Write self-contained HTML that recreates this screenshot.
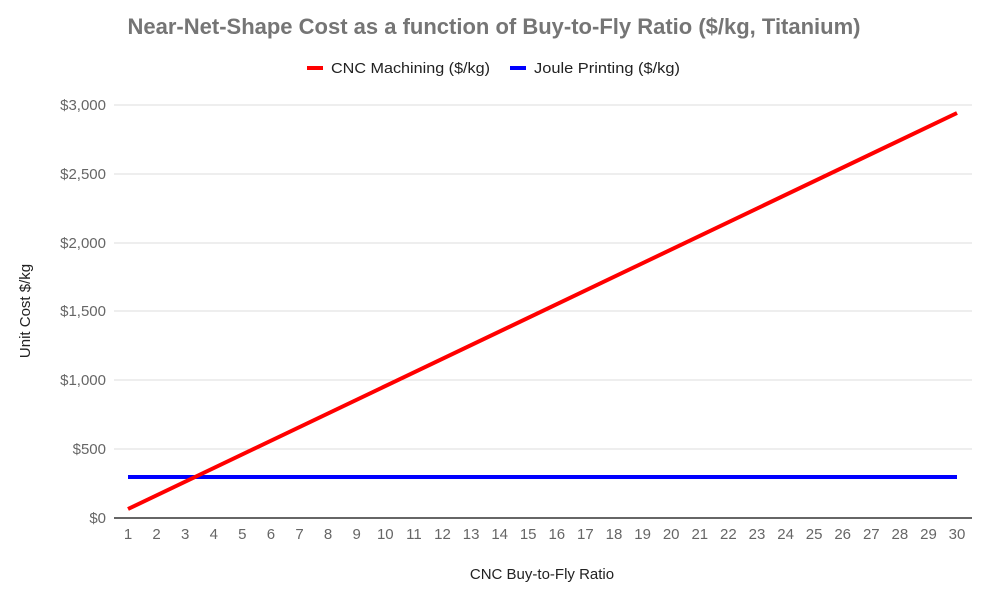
<!DOCTYPE html>
<html><head><meta charset="utf-8"><style>
body{margin:0;background:#fff;}
text{font-family:"Liberation Sans",Roboto,sans-serif;}
</style></head><body>
<svg width="1000" height="595" xmlns="http://www.w3.org/2000/svg">
<text x="494" y="34" text-anchor="middle" font-size="22" font-weight="bold" fill="#757575" textLength="733" lengthAdjust="spacingAndGlyphs">Near-Net-Shape Cost as a function of Buy-to-Fly Ratio ($/kg, Titanium)</text>
<line x1="307" y1="68" x2="323" y2="68" stroke="#f00" stroke-width="4"/>
<text x="331" y="73" font-size="15" fill="#222" textLength="159" lengthAdjust="spacingAndGlyphs">CNC Machining ($/kg)</text>
<line x1="510" y1="68" x2="526" y2="68" stroke="#00f" stroke-width="4"/>
<text x="534" y="73" font-size="15" fill="#222" textLength="146" lengthAdjust="spacingAndGlyphs">Joule Printing ($/kg)</text>
<g stroke="#ddd" stroke-width="1">
<line x1="114" y1="105" x2="972" y2="105"/>
<line x1="114" y1="174" x2="972" y2="174"/>
<line x1="114" y1="243" x2="972" y2="243"/>
<line x1="114" y1="311" x2="972" y2="311"/>
<line x1="114" y1="380" x2="972" y2="380"/>
<line x1="114" y1="449" x2="972" y2="449"/>
</g>
<line x1="114" y1="518" x2="972" y2="518" stroke="#333" stroke-width="1.5"/>
<g font-size="15" fill="#666" text-anchor="end">
<text x="106" y="110">$3,000</text><text x="106" y="179">$2,500</text><text x="106" y="248">$2,000</text>
<text x="106" y="316">$1,500</text><text x="106" y="385">$1,000</text><text x="106" y="454">$500</text><text x="106" y="523">$0</text>
</g>
<g font-size="15" fill="#666" text-anchor="middle">
<text x="128" y="539">1</text><text x="156.6" y="539">2</text><text x="185.2" y="539">3</text><text x="213.8" y="539">4</text><text x="242.3" y="539">5</text><text x="270.9" y="539">6</text><text x="299.5" y="539">7</text><text x="328.1" y="539">8</text><text x="356.7" y="539">9</text><text x="385.3" y="539">10</text><text x="413.9" y="539">11</text><text x="442.5" y="539">12</text><text x="471.1" y="539">13</text><text x="499.7" y="539">14</text><text x="528.2" y="539">15</text><text x="556.8" y="539">16</text><text x="585.4" y="539">17</text><text x="614" y="539">18</text><text x="642.6" y="539">19</text><text x="671.2" y="539">20</text><text x="699.8" y="539">21</text><text x="728.4" y="539">22</text><text x="757" y="539">23</text><text x="785.6" y="539">24</text><text x="814.1" y="539">25</text><text x="842.7" y="539">26</text><text x="871.3" y="539">27</text><text x="899.9" y="539">28</text><text x="928.5" y="539">29</text><text x="957" y="539">30</text>
</g>
<text x="542" y="579" font-size="15" fill="#222" text-anchor="middle">CNC Buy-to-Fly Ratio</text>
<text transform="translate(30,311) rotate(-90)" font-size="15" fill="#222" text-anchor="middle">Unit Cost $/kg</text>
<line x1="128" y1="477" x2="957" y2="477" stroke="#00f" stroke-width="4"/>
<line x1="128" y1="509" x2="957" y2="113" stroke="#f00" stroke-width="4"/>
</svg>
</body></html>
